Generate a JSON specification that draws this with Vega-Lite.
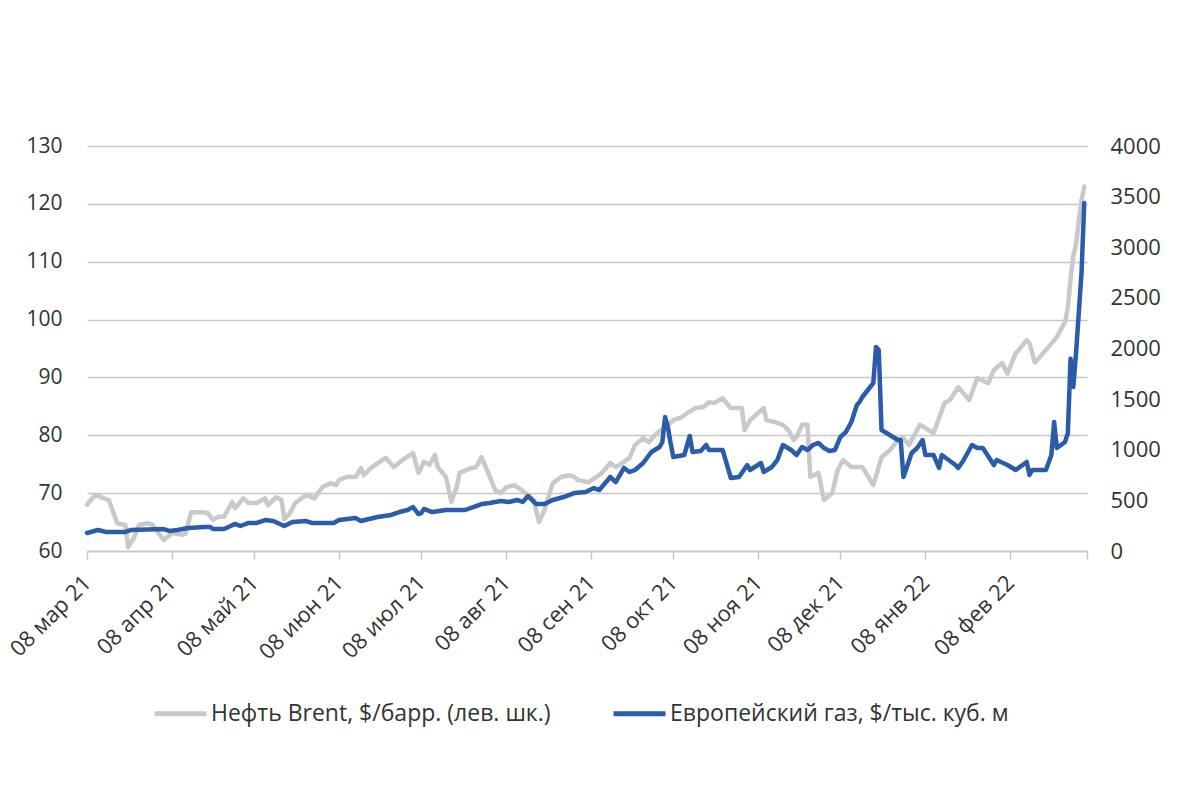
{
  "$schema": "https://vega.github.io/schema/vega-lite/v6.json",
  "width": 1000,
  "height": 405,
  "autosize": "none",
  "padding": {"left": 87, "top": 146, "right": 95, "bottom": 237},
  "background": "white",
  "config": {"font": "Open Sans", "view": {"stroke": null}, "axis": {"labelColor": "#333333", "labelFont": "Open Sans"}, "legend": {"labelFont": "Open Sans", "labelColor": "#333333"}},
  "datasets": {
    "brent": [
      {"date": "2021-03-08", "value": 68}, {"date": "2021-03-11", "value": 69.7}, {"date": "2021-03-16", "value": 68.8}, {"date": "2021-03-19", "value": 64.8},
      {"date": "2021-03-22", "value": 64.5}, {"date": "2021-03-23", "value": 60.7}, {"date": "2021-03-25", "value": 62.2}, {"date": "2021-03-27", "value": 64.5},
      {"date": "2021-03-30", "value": 64.8}, {"date": "2021-04-01", "value": 64.5}, {"date": "2021-04-05", "value": 61.9}, {"date": "2021-04-08", "value": 63.1},
      {"date": "2021-04-12", "value": 62.8}, {"date": "2021-04-13", "value": 63.0}, {"date": "2021-04-15", "value": 66.7}, {"date": "2021-04-18", "value": 66.7},
      {"date": "2021-04-21", "value": 66.6}, {"date": "2021-04-23", "value": 65.4}, {"date": "2021-04-25", "value": 65.9}, {"date": "2021-04-27", "value": 65.9},
      {"date": "2021-04-30", "value": 68.5}, {"date": "2021-05-01", "value": 67.4}, {"date": "2021-05-04", "value": 69.1}, {"date": "2021-05-06", "value": 68.3},
      {"date": "2021-05-09", "value": 68.3}, {"date": "2021-05-12", "value": 69.1}, {"date": "2021-05-13", "value": 67.9}, {"date": "2021-05-16", "value": 69.3},
      {"date": "2021-05-18", "value": 68.8}, {"date": "2021-05-19", "value": 65.5}, {"date": "2021-05-21", "value": 66.5}, {"date": "2021-05-23", "value": 68.3},
      {"date": "2021-05-27", "value": 69.7}, {"date": "2021-05-30", "value": 69.1}, {"date": "2021-06-02", "value": 71.1}, {"date": "2021-06-05", "value": 71.7},
      {"date": "2021-06-07", "value": 71.4}, {"date": "2021-06-08", "value": 72.3}, {"date": "2021-06-11", "value": 72.8}, {"date": "2021-06-14", "value": 72.8},
      {"date": "2021-06-16", "value": 74.3}, {"date": "2021-06-17", "value": 73.1}, {"date": "2021-06-20", "value": 74.5}, {"date": "2021-06-25", "value": 76.1},
      {"date": "2021-06-28", "value": 74.5}, {"date": "2021-07-01", "value": 75.7}, {"date": "2021-07-05", "value": 76.9}, {"date": "2021-07-07", "value": 73.5},
      {"date": "2021-07-09", "value": 75.4}, {"date": "2021-07-11", "value": 74.9}, {"date": "2021-07-13", "value": 76.6}, {"date": "2021-07-14", "value": 74.5},
      {"date": "2021-07-17", "value": 72.8}, {"date": "2021-07-19", "value": 68.5}, {"date": "2021-07-21", "value": 71.1}, {"date": "2021-07-22", "value": 73.5},
      {"date": "2021-07-26", "value": 74.3}, {"date": "2021-07-28", "value": 74.5}, {"date": "2021-07-30", "value": 76.2}, {"date": "2021-08-01", "value": 74},
      {"date": "2021-08-04", "value": 70.5}, {"date": "2021-08-06", "value": 70}, {"date": "2021-08-08", "value": 71}, {"date": "2021-08-11", "value": 71.4},
      {"date": "2021-08-15", "value": 70}, {"date": "2021-08-18", "value": 68.8}, {"date": "2021-08-20", "value": 65}, {"date": "2021-08-22", "value": 67.1},
      {"date": "2021-08-25", "value": 71.7}, {"date": "2021-08-28", "value": 72.8}, {"date": "2021-08-31", "value": 73.1}, {"date": "2021-09-02", "value": 72.8},
      {"date": "2021-09-03", "value": 72.3}, {"date": "2021-09-07", "value": 71.9}, {"date": "2021-09-10", "value": 72.8}, {"date": "2021-09-12", "value": 73.5},
      {"date": "2021-09-15", "value": 75.2}, {"date": "2021-09-17", "value": 74.5}, {"date": "2021-09-20", "value": 75.4}, {"date": "2021-09-22", "value": 76.1},
      {"date": "2021-09-24", "value": 78.3}, {"date": "2021-09-27", "value": 79.5}, {"date": "2021-09-29", "value": 78.8}, {"date": "2021-10-02", "value": 80.4},
      {"date": "2021-10-05", "value": 81.4}, {"date": "2021-10-08", "value": 82.6}, {"date": "2021-10-11", "value": 83.1}, {"date": "2021-10-13", "value": 83.8},
      {"date": "2021-10-16", "value": 84.7}, {"date": "2021-10-19", "value": 84.9}, {"date": "2021-10-21", "value": 85.7}, {"date": "2021-10-23", "value": 85.6},
      {"date": "2021-10-26", "value": 86.4}, {"date": "2021-10-29", "value": 84.7}, {"date": "2021-11-02", "value": 84.7}, {"date": "2021-11-03", "value": 80.9},
      {"date": "2021-11-05", "value": 82.6}, {"date": "2021-11-10", "value": 84.7}, {"date": "2021-11-11", "value": 82.6}, {"date": "2021-11-14", "value": 82.3},
      {"date": "2021-11-17", "value": 81.8}, {"date": "2021-11-19", "value": 80.9}, {"date": "2021-11-21", "value": 79.2}, {"date": "2021-11-22", "value": 79.7},
      {"date": "2021-11-24", "value": 81.8}, {"date": "2021-11-26", "value": 81.8}, {"date": "2021-11-27", "value": 72.8}, {"date": "2021-11-30", "value": 73.5},
      {"date": "2021-12-02", "value": 68.8}, {"date": "2021-12-05", "value": 70}, {"date": "2021-12-07", "value": 74}, {"date": "2021-12-09", "value": 75.7},
      {"date": "2021-12-12", "value": 74.5}, {"date": "2021-12-16", "value": 74.5}, {"date": "2021-12-20", "value": 71.4}, {"date": "2021-12-23", "value": 76.2},
      {"date": "2021-12-26", "value": 77.4}, {"date": "2021-12-29", "value": 79.2}, {"date": "2021-12-31", "value": 79.5}, {"date": "2022-01-02", "value": 78.3},
      {"date": "2022-01-06", "value": 81.8}, {"date": "2022-01-11", "value": 80.4}, {"date": "2022-01-15", "value": 85.6}, {"date": "2022-01-17", "value": 86.1},
      {"date": "2022-01-20", "value": 88.3}, {"date": "2022-01-24", "value": 86.1}, {"date": "2022-01-27", "value": 89.9}, {"date": "2022-01-31", "value": 89},
      {"date": "2022-02-02", "value": 91.3}, {"date": "2022-02-05", "value": 92.5}, {"date": "2022-02-07", "value": 90.7}, {"date": "2022-02-10", "value": 94.2},
      {"date": "2022-02-11", "value": 94.7}, {"date": "2022-02-14", "value": 96.4}, {"date": "2022-02-15", "value": 95.9}, {"date": "2022-02-17", "value": 92.6},
      {"date": "2022-02-20", "value": 94.2}, {"date": "2022-02-24", "value": 96.4}, {"date": "2022-02-25", "value": 97}, {"date": "2022-02-28", "value": 99.6},
      {"date": "2022-03-01", "value": 102}, {"date": "2022-03-02", "value": 107}, {"date": "2022-03-03", "value": 111}, {"date": "2022-03-04", "value": 113},
      {"date": "2022-03-05", "value": 117}, {"date": "2022-03-06", "value": 120.6}, {"date": "2022-03-07", "value": 123}
    ],
    "gas": [
      {"date": "2021-03-08", "value": 178}, {"date": "2021-03-12", "value": 207}, {"date": "2021-03-15", "value": 188}, {"date": "2021-03-22", "value": 188},
      {"date": "2021-03-24", "value": 207}, {"date": "2021-04-05", "value": 217}, {"date": "2021-04-07", "value": 198}, {"date": "2021-04-10", "value": 207},
      {"date": "2021-04-14", "value": 227}, {"date": "2021-04-20", "value": 237}, {"date": "2021-04-22", "value": 237}, {"date": "2021-04-23", "value": 217},
      {"date": "2021-04-27", "value": 217}, {"date": "2021-05-01", "value": 267}, {"date": "2021-05-03", "value": 247}, {"date": "2021-05-06", "value": 277},
      {"date": "2021-05-09", "value": 277}, {"date": "2021-05-12", "value": 306}, {"date": "2021-05-15", "value": 296}, {"date": "2021-05-19", "value": 247},
      {"date": "2021-05-22", "value": 286}, {"date": "2021-05-27", "value": 296}, {"date": "2021-05-29", "value": 277}, {"date": "2021-06-06", "value": 277},
      {"date": "2021-06-08", "value": 306}, {"date": "2021-06-14", "value": 326}, {"date": "2021-06-16", "value": 296}, {"date": "2021-06-22", "value": 336},
      {"date": "2021-06-27", "value": 356}, {"date": "2021-06-30", "value": 385}, {"date": "2021-07-03", "value": 405}, {"date": "2021-07-05", "value": 434},
      {"date": "2021-07-07", "value": 365}, {"date": "2021-07-08", "value": 375}, {"date": "2021-07-09", "value": 415}, {"date": "2021-07-12", "value": 385},
      {"date": "2021-07-17", "value": 405}, {"date": "2021-07-24", "value": 405}, {"date": "2021-07-27", "value": 434}, {"date": "2021-07-30", "value": 464},
      {"date": "2021-08-02", "value": 474}, {"date": "2021-08-06", "value": 494}, {"date": "2021-08-09", "value": 484}, {"date": "2021-08-12", "value": 504},
      {"date": "2021-08-14", "value": 484}, {"date": "2021-08-16", "value": 543}, {"date": "2021-08-19", "value": 464}, {"date": "2021-08-22", "value": 464},
      {"date": "2021-08-25", "value": 504}, {"date": "2021-08-29", "value": 533}, {"date": "2021-09-02", "value": 573}, {"date": "2021-09-06", "value": 583},
      {"date": "2021-09-09", "value": 622}, {"date": "2021-09-11", "value": 602}, {"date": "2021-09-15", "value": 731}, {"date": "2021-09-17", "value": 681},
      {"date": "2021-09-20", "value": 820}, {"date": "2021-09-22", "value": 780}, {"date": "2021-09-24", "value": 800}, {"date": "2021-09-27", "value": 869},
      {"date": "2021-09-30", "value": 978}, {"date": "2021-10-03", "value": 1027}, {"date": "2021-10-04", "value": 1077}, {"date": "2021-10-05", "value": 1323},
      {"date": "2021-10-06", "value": 1225}, {"date": "2021-10-07", "value": 1067}, {"date": "2021-10-08", "value": 928}, {"date": "2021-10-12", "value": 948},
      {"date": "2021-10-14", "value": 1136}, {"date": "2021-10-15", "value": 978}, {"date": "2021-10-18", "value": 988}, {"date": "2021-10-20", "value": 1047},
      {"date": "2021-10-21", "value": 998}, {"date": "2021-10-26", "value": 998}, {"date": "2021-10-29", "value": 721}, {"date": "2021-11-01", "value": 731},
      {"date": "2021-11-04", "value": 849}, {"date": "2021-11-05", "value": 800}, {"date": "2021-11-09", "value": 869}, {"date": "2021-11-10", "value": 780},
      {"date": "2021-11-13", "value": 830}, {"date": "2021-11-15", "value": 899}, {"date": "2021-11-17", "value": 1047}, {"date": "2021-11-20", "value": 998},
      {"date": "2021-11-22", "value": 948}, {"date": "2021-11-24", "value": 1027}, {"date": "2021-11-26", "value": 998}, {"date": "2021-11-28", "value": 1047},
      {"date": "2021-11-30", "value": 1067}, {"date": "2021-12-02", "value": 1017}, {"date": "2021-12-04", "value": 988}, {"date": "2021-12-06", "value": 998},
      {"date": "2021-12-08", "value": 1126}, {"date": "2021-12-10", "value": 1175}, {"date": "2021-12-12", "value": 1274}, {"date": "2021-12-14", "value": 1442},
      {"date": "2021-12-15", "value": 1472}, {"date": "2021-12-16", "value": 1521}, {"date": "2021-12-18", "value": 1590}, {"date": "2021-12-20", "value": 1659},
      {"date": "2021-12-21", "value": 2015}, {"date": "2021-12-22", "value": 1985}, {"date": "2021-12-23", "value": 1195}, {"date": "2021-12-26", "value": 1146},
      {"date": "2021-12-29", "value": 1096}, {"date": "2021-12-30", "value": 1096}, {"date": "2021-12-31", "value": 731}, {"date": "2022-01-03", "value": 968},
      {"date": "2022-01-05", "value": 1017}, {"date": "2022-01-07", "value": 1096}, {"date": "2022-01-08", "value": 948}, {"date": "2022-01-11", "value": 948},
      {"date": "2022-01-13", "value": 820}, {"date": "2022-01-14", "value": 948}, {"date": "2022-01-19", "value": 849}, {"date": "2022-01-20", "value": 820},
      {"date": "2022-01-22", "value": 899}, {"date": "2022-01-25", "value": 1047}, {"date": "2022-01-27", "value": 1017}, {"date": "2022-01-29", "value": 1017},
      {"date": "2022-02-02", "value": 849}, {"date": "2022-02-03", "value": 899}, {"date": "2022-02-07", "value": 849}, {"date": "2022-02-10", "value": 800},
      {"date": "2022-02-14", "value": 879}, {"date": "2022-02-15", "value": 751}, {"date": "2022-02-16", "value": 800}, {"date": "2022-02-21", "value": 800},
      {"date": "2022-02-23", "value": 948}, {"date": "2022-02-24", "value": 1274}, {"date": "2022-02-25", "value": 1017}, {"date": "2022-02-28", "value": 1077},
      {"date": "2022-03-01", "value": 1165}, {"date": "2022-03-02", "value": 1900}, {"date": "2022-03-03", "value": 1620}, {"date": "2022-03-04", "value": 1956},
      {"date": "2022-03-06", "value": 2746}, {"date": "2022-03-07", "value": 3437}
    ]
  },
  "encoding": {
    "x": {
      "field": "date",
      "type": "temporal",
      "scale": {"type": "utc", "domain": [{"year": 2021, "month": 3, "date": 8, "utc": true}, {"year": 2022, "month": 3, "date": 8, "utc": true}]},
      "axis": {
        "title": null,
        "grid": false,
        "values": [
          {"year": 2021, "month": 3, "date": 8, "utc": true}, {"year": 2021, "month": 4, "date": 8, "utc": true}, {"year": 2021, "month": 5, "date": 8, "utc": true},
          {"year": 2021, "month": 6, "date": 8, "utc": true}, {"year": 2021, "month": 7, "date": 8, "utc": true}, {"year": 2021, "month": 8, "date": 8, "utc": true},
          {"year": 2021, "month": 9, "date": 8, "utc": true}, {"year": 2021, "month": 10, "date": 8, "utc": true}, {"year": 2021, "month": 11, "date": 8, "utc": true},
          {"year": 2021, "month": 12, "date": 8, "utc": true}, {"year": 2022, "month": 1, "date": 8, "utc": true}, {"year": 2022, "month": 2, "date": 8, "utc": true},
          {"year": 2022, "month": 3, "date": 8, "utc": true}
        ],
        "labelExpr": "(utcyear(datum.value) == 2022 && utcmonth(datum.value) == 2) ? '' : '08 ' + ['янв','фев','мар','апр','май','июн','июл','авг','сен','окт','ноя','дек'][utcmonth(datum.value)] + ' ' + utcFormat(datum.value, '%y')",
        "labelAngle": -45,
        "labelAlign": "right",
        "labelBaseline": "middle",
        "labelFontSize": 22,
        "labelPadding": 20,
        "labelOverlap": false,
        "labelBound": false,
        "labelFlush": false,
        "domainColor": "#c8c8c8",
        "domainWidth": 1.5,
        "tickColor": "#c8c8c8",
        "tickWidth": 1.5,
        "tickSize": 8
      }
    }
  },
  "layer": [
    {
      "data": {"name": "brent"},
      "mark": {"type": "line", "strokeWidth": 4.5, "strokeJoin": "round", "strokeCap": "round"},
      "encoding": {
        "y": {
          "field": "value",
          "type": "quantitative",
          "scale": {"domain": [60, 130], "nice": false, "zero": false},
          "axis": {"title": null, "orient": "left", "values": [60, 70, 80, 90, 100, 110, 120, 130], "grid": true, "gridColor": "#c8c8c8", "gridWidth": 1.5, "domain": false, "ticks": false, "labelPadding": 25, "labelFontSize": 21}
        },
        "color": {
          "datum": "Нефть Brent, $/барр. (лев. шк.)",
          "scale": {"domain": ["Нефть Brent, $/барр. (лев. шк.)", "Европейский газ, $/тыс. куб. м"], "range": ["#c9c9c9", "#2b5ca9"]},
          "legend": {
            "title": null,
            "orient": "none",
            "legendX": 65,
            "legendY": 539,
            "direction": "horizontal",
            "symbolType": "stroke",
            "symbolSize": 2700,
            "symbolStrokeWidth": 5,
            "labelFontSize": 23,
            "labelLimit": 600,
            "columnPadding": 52,
            "labelOffset": 2
          }
        }
      }
    },
    {
      "data": {"name": "gas"},
      "mark": {"type": "line", "strokeWidth": 4.5, "strokeJoin": "round", "strokeCap": "round"},
      "encoding": {
        "y": {
          "field": "value",
          "type": "quantitative",
          "scale": {"domain": [0, 4000], "nice": false},
          "axis": {"title": null, "orient": "right", "values": [0, 500, 1000, 1500, 2000, 2500, 3000, 3500, 4000], "format": "d", "grid": false, "domain": false, "ticks": false, "labelPadding": 23, "labelFontSize": 22}
        },
        "color": {"datum": "Европейский газ, $/тыс. куб. м"}
      }
    }
  ],
  "resolve": {"scale": {"y": "independent"}}
}
